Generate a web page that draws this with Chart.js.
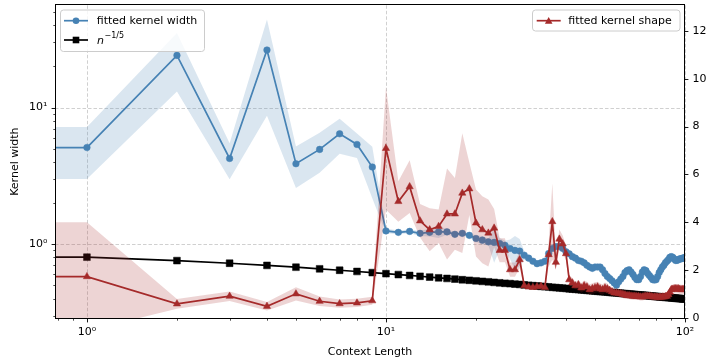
<!DOCTYPE html>
<html>
<head>
<meta charset="utf-8">
<script src="https://cdn.jsdelivr.net/npm/chart.js@4"></script>
<style>
  html, body { margin: 0; padding: 0; background: #fff; }
  #wrap { width: 706px; height: 364px; }
</style>
</head>
<body>
<div id="wrap"><canvas id="chart" width="706" height="364"></canvas></div>
<script>
// context length 0 sits at -inf on the log axis, so its segment runs in from the left edge
const contextLengths = [
  0, 1, 2, 3, 4, 5, 6, 7, 8, 9,
  10, 11, 12, 13, 14, 15, 16, 17, 18, 19,
  20, 21, 22, 23, 24, 25, 26, 27, 28, 29,
  30, 31, 32, 33, 34, 35, 36, 37, 38, 39,
  40, 41, 42, 43, 44, 45, 46, 47, 48, 49,
  50, 51, 52, 53, 54, 55, 56, 57, 58, 59,
  60, 61, 62, 63, 64, 65, 66, 67, 68, 69,
  70, 71, 72, 73, 74, 75, 76, 77, 78, 79,
  80, 81, 82, 83, 84, 85, 86, 87, 88, 89,
  90, 91, 92, 93, 94, 95, 96, 97, 98, 99,
  100
];

const kernelWidth = [
  5.1, 5.1, 24.1, 4.24, 26.4, 3.88, 4.94, 6.43, 5.37, 3.67,
  1.25, 1.22, 1.24, 1.20, 1.22, 1.23, 1.23, 1.18, 1.20, 1.16,
  1.10, 1.07, 1.04, 1.03, 1.01, 0.98, 0.93, 0.90, 0.89, 0.83,
  0.79, 0.75, 0.72, 0.73, 0.75, 0.855, 0.93, 0.96, 0.96, 0.93,
  0.88, 0.85, 0.81, 0.79, 0.76, 0.75, 0.73, 0.70, 0.68, 0.665,
  0.68, 0.68, 0.68, 0.65, 0.61, 0.58, 0.56, 0.54, 0.52, 0.50,
  0.53, 0.555, 0.58, 0.62, 0.64, 0.65, 0.625, 0.60, 0.57, 0.55,
  0.55, 0.58, 0.625, 0.65, 0.64, 0.61, 0.59, 0.57, 0.55, 0.546,
  0.55, 0.58, 0.62, 0.65, 0.68, 0.70, 0.73, 0.75, 0.77, 0.80,
  0.81, 0.80, 0.78, 0.76, 0.76, 0.77, 0.78, 0.78, 0.79, 0.79,
  0.80
];

const kernelWidthErr = [
  2.1, 2.1, 11, 1.25, 17.7, 1.3, 1.6, 1.84, 1.1, 1.5,
  0.05, 0.04, 0.04, 0.05, 0.08, 0.12, 0.06, 0.04, 0.04, 0.04,
  0.06, 0.08, 0.06, 0.3, 0.1, 0.08, 0.15, 0.25, 0.2, 0.06,
  0.04, 0.03, 0.03, 0.04, 0.04, 0.04, 0.03, 0.03, 0.03, 0.03,
  0.025, 0.025, 0.025, 0.025, 0.025, 0.025, 0.025, 0.025, 0.025, 0.025,
  0.025, 0.025, 0.025, 0.025, 0.025, 0.025, 0.025, 0.025, 0.025, 0.025,
  0.025, 0.025, 0.025, 0.025, 0.025, 0.025, 0.025, 0.025, 0.025, 0.025,
  0.025, 0.025, 0.025, 0.025, 0.025, 0.025, 0.025, 0.025, 0.025, 0.025,
  0.025, 0.025, 0.025, 0.025, 0.025, 0.025, 0.025, 0.025, 0.025, 0.025,
  0.025, 0.025, 0.025, 0.025, 0.025, 0.025, 0.025, 0.025, 0.025, 0.025,
  0.025
];

// n^{-1/5} reference curve (left axis)
const refScaling = [
  0.803, 0.803, 0.758, 0.725, 0.699, 0.678, 0.660, 0.644, 0.631, 0.619,
  0.608, 0.599, 0.590, 0.582, 0.574, 0.567, 0.561, 0.555, 0.549, 0.544,
  0.539, 0.534, 0.530, 0.525, 0.521, 0.517, 0.514, 0.510, 0.507, 0.503,
  0.500, 0.497, 0.494, 0.491, 0.488, 0.486, 0.483, 0.481, 0.478, 0.476,
  0.474, 0.471, 0.469, 0.467, 0.465, 0.463, 0.461, 0.459, 0.457, 0.456,
  0.454, 0.452, 0.450, 0.449, 0.447, 0.446, 0.444, 0.442, 0.441, 0.440,
  0.438, 0.437, 0.435, 0.434, 0.433, 0.431, 0.430, 0.429, 0.428, 0.426,
  0.425, 0.424, 0.423, 0.422, 0.421, 0.420, 0.418, 0.417, 0.416, 0.415,
  0.414, 0.413, 0.412, 0.411, 0.410, 0.409, 0.408, 0.408, 0.407, 0.406,
  0.405, 0.404, 0.403, 0.402, 0.401, 0.401, 0.400, 0.399, 0.398, 0.397,
  0.397
];

// fitted kernel shape (right axis)
const kernelShape = [
  1.73, 1.73, 0.59, 0.91, 0.49, 1.01, 0.70, 0.60, 0.63, 0.72,
  7.09, 4.87, 5.49, 4.06, 3.69, 3.83, 4.35, 4.35, 5.22, 5.40,
  3.97, 3.69, 3.55, 3.76, 2.83, 2.83, 2.02, 2.02, 2.44, 1.35,
  1.30, 1.28, 1.31, 1.33, 1.28, 2.65, 4.03, 2.33, 3.30, 3.10,
  2.69, 1.60, 1.47, 1.35, 1.39, 1.26, 1.35, 1.30, 1.19, 1.23,
  1.27, 1.30, 1.22, 1.19, 1.26, 1.22, 1.16, 1.10, 1.05, 1.05,
  1.03, 1.02, 0.99, 0.97, 0.94, 0.94, 0.92, 0.91, 0.91, 0.90,
  0.90, 0.88, 0.88, 0.90, 0.91, 0.91, 0.91, 0.90, 0.88, 0.88,
  0.88, 0.87, 0.87, 0.87, 0.88, 0.88, 0.90, 0.91, 0.98, 1.08,
  1.19, 1.20, 1.22, 1.22, 1.22, 1.22, 1.20, 1.19, 1.19, 1.19,
  1.19
];

const kernelShapeErr = [
  2.27, 2.27, 0.2, 0.2, 0.18, 0.28, 0.2, 0.17, 0.17, 0.17,
  2.57, 0.85, 1.1, 0.7, 0.9, 0.7, 1.9, 1.5, 2.5, 1.1,
  1.4, 1.4, 1.4, 0.8, 0.5, 0.5, 0.3, 0.3, 0.35, 0.1,
  0.1, 0.1, 0.1, 0.12, 0.1, 0.5, 1.6, 0.3, 0.4, 0.35,
  0.3, 0.2, 0.2, 0.15, 0.2, 0.2, 0.22, 0.22, 0.22, 0.22,
  0.22, 0.22, 0.22, 0.22, 0.22, 0.22, 0.15, 0.15, 0.15, 0.15,
  0.15, 0.15, 0.15, 0.15, 0.15, 0.15, 0.15, 0.15, 0.15, 0.15,
  0.15, 0.15, 0.15, 0.15, 0.15, 0.15, 0.15, 0.15, 0.15, 0.15,
  0.15, 0.15, 0.15, 0.15, 0.15, 0.15, 0.15, 0.15, 0.2, 0.2,
  0.2, 0.2, 0.2, 0.2, 0.2, 0.2, 0.2, 0.2, 0.2, 0.2,
  0.2
];

const xTicks = [0.8, 0.9, 1, 2, 3, 4, 5, 6, 7, 8, 9, 10, 20, 30, 40, 50, 60, 70, 80, 90, 100];
const widthTicks = [0.3, 0.4, 0.5, 0.6, 0.7, 0.8, 0.9, 1, 2, 3, 4, 5, 6, 7, 8, 9, 10, 20, 30, 40, 50];
const shapeTicks = [0, 2, 4, 6, 8, 10, 12];

const FONT = 'DejaVu Sans';
const BLUE = '#4682b4';
const BROWN = '#a52a2a';

const SUP = { '0': '\u2070', '1': '\u00b9', '2': '\u00b2' };
function isDecade(v) {
  const e = Math.log10(v);
  return Math.abs(e - Math.round(e)) < 1e-9;
}
function decadeLabel(v) {
  if (!isDecade(v)) return '';
  return '10' + String(Math.round(Math.log10(v))).split('').map(c => SUP[c]).join('');
}

const pts = (ys, errs, sign) => contextLengths.map((x, i) => ({
  x, y: errs ? ys[i] + sign * errs[i] : ys[i]
}));
const hideFirst = r => ctx => (ctx.dataIndex === 0 ? 0 : r);

function fixBox(w, h) {
  return s => {
    if (w !== null) s.width = w;
    if (h !== null) s.height = h;
    s.paddingLeft = 0; s.paddingRight = 0; s.paddingTop = 0; s.paddingBottom = 0;
  };
}

function drawMarker(ctx, style, x, y, r) {
  ctx.beginPath();
  if (style === 'circle') {
    ctx.arc(x, y, r, 0, Math.PI * 2);
  } else if (style === 'rect') {
    ctx.rect(x - r, y - r, 2 * r, 2 * r);
  } else {
    ctx.moveTo(x, y - r);
    ctx.lineTo(x - r, y + r * 0.8);
    ctx.lineTo(x + r, y + r * 0.8);
    ctx.closePath();
  }
  ctx.fill();
}

function legendBox(ctx, x, y, w, h) {
  ctx.beginPath();
  ctx.roundRect(x, y, w, h, 3);
  ctx.fillStyle = 'rgba(255,255,255,0.8)';
  ctx.fill();
  ctx.strokeStyle = '#cccccc';
  ctx.lineWidth = 1;
  ctx.stroke();
}

function legendSample(ctx, x, y, color, style, r) {
  ctx.strokeStyle = color;
  ctx.lineWidth = 1.7;
  ctx.beginPath();
  ctx.moveTo(x, y);
  ctx.lineTo(x + 24, y);
  ctx.stroke();
  ctx.fillStyle = color;
  drawMarker(ctx, style, x + 12, y, r);
}

const axesDecor = {
  id: 'axesDecor',
  beforeDatasetsDraw(chart) {
    const { ctx, chartArea: a, scales } = chart;
    ctx.save();
    ctx.strokeStyle = 'rgba(176,176,176,0.75)';
    ctx.lineWidth = 0.8;
    ctx.setLineDash([3.5, 2]);
    xTicks.filter(isDecade).forEach(v => {
      const px = Math.round(scales.x.getPixelForValue(v)) + 0.5;
      ctx.beginPath(); ctx.moveTo(px, a.top); ctx.lineTo(px, a.bottom); ctx.stroke();
    });
    widthTicks.filter(isDecade).forEach(v => {
      const py = Math.round(scales.y.getPixelForValue(v)) + 0.5;
      ctx.beginPath(); ctx.moveTo(a.left, py); ctx.lineTo(a.right, py); ctx.stroke();
    });
    ctx.restore();
  },
  afterDatasetsDraw(chart) {
    const { ctx, chartArea: a, scales } = chart;
    ctx.save();
    // spines
    ctx.strokeStyle = '#000';
    ctx.lineWidth = 1;
    const L = Math.round(a.left) + 0.5, R = Math.round(a.right) - 0.5;
    const T = Math.round(a.top) - 0.5, B = Math.round(a.bottom) + 0.5;
    ctx.strokeRect(L, T, R - L, B - T);
    // tick marks
    const tick = (x0, y0, x1, y1, major) => {
      ctx.lineWidth = major ? 0.9 : 0.7;
      ctx.beginPath(); ctx.moveTo(x0, y0); ctx.lineTo(x1, y1); ctx.stroke();
    };
    xTicks.forEach(v => {
      const px = Math.round(scales.x.getPixelForValue(v)) + 0.5;
      const len = isDecade(v) ? 3.9 : 2.2;
      tick(px, B, px, B + len, isDecade(v));
    });
    widthTicks.forEach(v => {
      const py = Math.round(scales.y.getPixelForValue(v)) + 0.5;
      const len = isDecade(v) ? 3.9 : 2.2;
      tick(L, py, L - len, py, isDecade(v));
    });
    shapeTicks.forEach(v => {
      const py = Math.round(scales.y2.getPixelForValue(v)) + 0.5;
      tick(R, py, R + 3.9, py, true);
    });

    // left legend (kernel width, n^-1/5)
    legendBox(ctx, 60.5, 10, 144, 41.5);
    legendSample(ctx, 64, 20.7, BLUE, 'circle', 3.3);
    legendSample(ctx, 64, 40, '#000', 'rect', 3.3);
    ctx.fillStyle = '#000';
    ctx.textBaseline = 'middle';
    ctx.font = '11px "' + FONT + '"';
    ctx.fillText('fitted kernel width', 96.7, 20.7);
    ctx.font = 'italic 11px "' + FONT + '"';
    ctx.fillText('n', 97, 41);
    const nW = ctx.measureText('n').width;
    ctx.font = '8px "' + FONT + '"';
    ctx.fillText('\u22121/5', 97 + nW + 0.6, 35.5);

    // right legend (kernel shape)
    legendBox(ctx, 532.5, 10, 147.5, 21);
    legendSample(ctx, 536.7, 20.7, BROWN, 'triangle', 3.8);
    ctx.fillStyle = '#000';
    ctx.font = '11px "' + FONT + '"';
    ctx.fillText('fitted kernel shape', 568.3, 20.7);
    ctx.restore();
  }
};

const tickFont = { family: FONT, size: 11 };

new Chart(document.getElementById('chart'), {
  type: 'line',
  data: {
    datasets: [
      {
        label: 'fitted kernel shape', data: pts(kernelShape), yAxisID: 'y2',
        borderColor: BROWN, backgroundColor: BROWN, borderWidth: 1.7,
        pointStyle: 'triangle', pointRadius: hideFirst(4.2), pointBorderWidth: 0.5,
        pointBackgroundColor: BROWN, pointBorderColor: BROWN, fill: false
      },
      {
        label: 'shape upper', data: pts(kernelShape, kernelShapeErr, 1), yAxisID: 'y2',
        borderWidth: 0, pointRadius: 0, fill: false
      },
      {
        label: 'shape lower', data: pts(kernelShape, kernelShapeErr, -1), yAxisID: 'y2',
        borderWidth: 0, pointRadius: 0, fill: '-1', backgroundColor: 'rgba(165,42,42,0.2)'
      },
      {
        label: 'n^-1/5', data: pts(refScaling), yAxisID: 'y',
        borderColor: '#000', backgroundColor: '#000', borderWidth: 1.7,
        pointStyle: 'rect', pointRadius: hideFirst(4.8), pointBorderWidth: 0.5,
        pointBackgroundColor: '#000', pointBorderColor: '#000', fill: false
      },
      {
        label: 'fitted kernel width', data: pts(kernelWidth), yAxisID: 'y',
        borderColor: BLUE, backgroundColor: BLUE, borderWidth: 1.7,
        pointStyle: 'circle', pointRadius: hideFirst(3.3), pointBorderWidth: 0.5,
        pointBackgroundColor: BLUE, pointBorderColor: BLUE, fill: false
      },
      {
        label: 'width upper', data: pts(kernelWidth, kernelWidthErr, 1), yAxisID: 'y',
        borderWidth: 0, pointRadius: 0, fill: false
      },
      {
        label: 'width lower', data: pts(kernelWidth, kernelWidthErr, -1), yAxisID: 'y',
        borderWidth: 0, pointRadius: 0, fill: '-1', backgroundColor: 'rgba(70,130,180,0.2)'
      }
    ]
  },
  options: {
    responsive: false,
    devicePixelRatio: 1,
    animation: false,
    layout: { padding: { top: 5, left: 0, right: 0, bottom: 0 } },
    plugins: { legend: { display: false }, tooltip: { enabled: false } },
    elements: { line: { tension: 0 } },
    scales: {
      x: {
        type: 'logarithmic', min: 0.782, max: 100, bounds: 'data',
        afterBuildTicks: s => { s.ticks = xTicks.map(v => ({ value: v, major: isDecade(v) })); },
        afterFit: fixBox(null, 46),
        grid: { display: false, drawTicks: false },
        border: { display: false },
        ticks: {
          autoSkip: false, maxRotation: 0, padding: 7.5, color: '#000', font: tickFont,
          callback: v => decadeLabel(v)
        },
        title: {
          display: true, text: 'Context Length', color: '#000', font: tickFont,
          padding: { top: 0, bottom: 5.4 }
        }
      },
      y: {
        type: 'logarithmic', position: 'left', min: 0.288, max: 56.1, bounds: 'data',
        afterBuildTicks: s => { s.ticks = widthTicks.map(v => ({ value: v, major: isDecade(v) })); },
        afterFit: fixBox(55, null),
        grid: { display: false, drawTicks: false },
        border: { display: false },
        ticks: {
          autoSkip: false, padding: 7.5, color: '#000', font: tickFont,
          callback: v => decadeLabel(v)
        },
        title: {
          display: true, text: 'Kernel width', color: '#000', font: tickFont,
          padding: { top: 8.4, bottom: 0 }
        }
      },
      y2: {
        type: 'linear', position: 'right', min: 0, max: 13.07, bounds: 'data',
        afterBuildTicks: s => { s.ticks = shapeTicks.map(v => ({ value: v })); },
        afterFit: fixBox(21, null),
        grid: { display: false, drawTicks: false },
        border: { display: false },
        ticks: {
          autoSkip: false, padding: 7.5, color: '#000', font: tickFont,
          callback: v => String(v)
        }
      }
    }
  },
  plugins: [axesDecor]
});
</script>
</body>
</html>
